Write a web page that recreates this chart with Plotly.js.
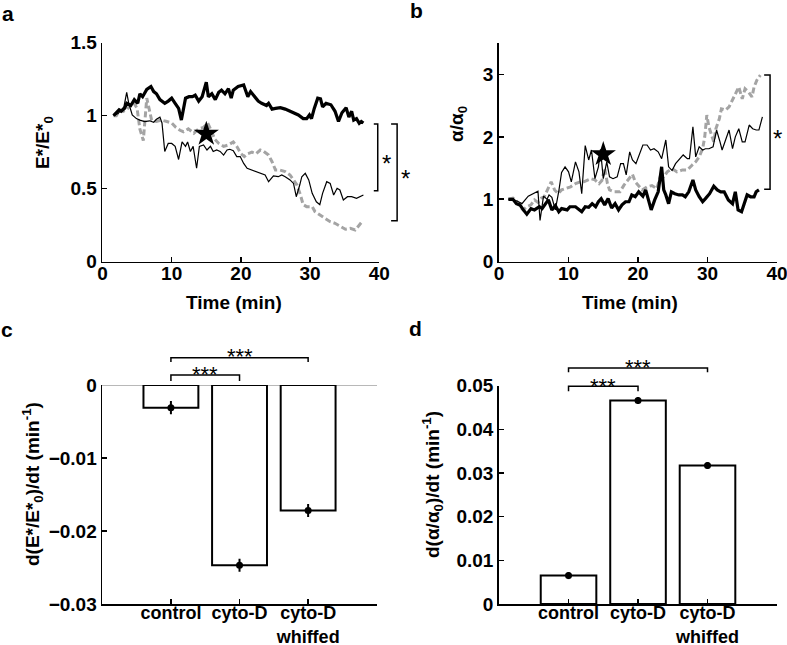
<!DOCTYPE html>
<html>
<head>
<meta charset="utf-8">
<script src="https://cdn.plot.ly/plotly-3.0.1.min.js"></script>
<style>html,body{margin:0;padding:0;background:#fff;}#chart{width:787px;height:645px;}</style>
</head>
<body>
<div id="chart"></div>
<script>
// ---------- Panel a: E*/E*0 vs time ----------
const tA_control = [1.6,2.0,2.4,2.7,3.2,3.5,4.1,4.6,5.1,5.4,
  5.8,6.4,7.0,7.4,7.8,8.3,9.0,9.5,10.0,10.5,
  11.0,11.4,12.0,12.5,13.0,13.4,13.9,14.4,15.0,15.3,
  15.8,16.3,16.8,17.2,17.7,18.2,18.6,18.9,19.6,20.4,
  20.6,21.0,21.4,22.0,22.5,23.0,23.7,24.0,24.5,25.0,
  25.7,26.4,27.1,27.6,28.3,29.0,29.5,29.9,30.2,30.6,
  31.1,31.5,31.8,32.3,33.0,33.6,34.1,34.6,35.2,35.6,
  36.0,36.3,36.7,37.1,37.4,37.7];
const vA_control = [1.00,1.02,1.04,1.03,1.05,1.085,1.07,1.11,1.085,1.15,
  1.13,1.18,1.20,1.165,1.15,1.11,1.085,1.10,1.12,1.085,
  1.05,0.97,1.12,1.13,1.13,1.14,1.10,1.13,1.23,1.13,
  1.15,1.11,1.16,1.175,1.15,1.185,1.12,1.175,1.20,1.21,
  1.185,1.13,1.165,1.13,1.10,1.085,1.07,1.085,1.045,1.05,
  1.055,1.045,1.03,1.02,1.005,0.98,0.98,1.005,0.98,1.05,
  1.12,1.115,1.06,1.085,1.075,1.03,0.96,1.02,1.055,0.99,
  1.03,0.97,0.98,0.948,0.96,0.95];

const tA_cytoD = [1.6,2.3,2.7,3.1,3.5,3.8,4.3,4.9,5.4,6.1,
  6.8,7.4,7.8,8.3,8.6,9.0,9.5,10.0,10.5,11.0,
  11.5,12.0,12.3,12.7,13.1,13.6,14.0,14.6,15.1,15.6,
  16.0,16.5,17.0,17.5,18.0,18.4,18.9,19.4,19.9,20.4,
  20.9,21.6,22.3,22.8,23.5,24.0,24.7,25.4,25.9,26.4,
  27.1,27.6,28.0,28.5,28.8,29.3,29.8,30.3,30.9,31.4,
  31.8,32.4,32.9,33.4,33.9,34.3,34.8,35.4,36.0,36.7,
  37.2,37.7];
const vA_cytoD = [1.00,1.016,1.04,1.06,1.16,1.085,1.005,0.98,0.97,0.96,
  0.965,0.955,0.975,0.99,0.95,0.755,0.81,0.81,0.79,0.70,
  0.82,0.79,0.82,0.755,0.79,0.64,0.79,0.80,0.765,0.79,
  0.755,0.765,0.755,0.73,0.765,0.77,0.76,0.72,0.72,0.673,
  0.64,0.628,0.617,0.605,0.594,0.548,0.587,0.582,0.594,0.582,
  0.56,0.536,0.445,0.525,0.582,0.605,0.56,0.468,0.41,0.39,
  0.468,0.548,0.536,0.457,0.503,0.491,0.423,0.445,0.445,0.434,
  0.445,0.457];

const tA_whiffed = [1.6,2.0,2.5,3.0,3.5,4.0,4.5,5.0,5.4,5.9,
  6.4,6.8,7.1,7.8,8.5,9.3,10.0,10.6,11.2,11.7,
  12.4,13.2,13.9,14.6,15.2,15.7,16.2,16.8,17.5,18.2,
  18.9,19.4,20.0,20.5,21.0,21.6,22.2,22.8,23.3,24.0,
  24.5,25.0,25.6,26.4,27.1,27.6,28.1,28.6,29.0,29.5,
  30.3,30.7,31.5,32.2,32.9,33.6,34.4,35.1,35.8,36.5,
  37.0,37.5];
const vA_whiffed = [1.00,1.00,1.04,1.03,1.04,1.07,1.09,1.05,0.91,0.83,
  1.12,1.02,0.97,0.96,0.97,0.96,0.95,0.92,0.90,0.89,
  0.91,0.88,0.91,0.92,0.95,0.90,0.84,0.81,0.79,0.80,
  0.82,0.79,0.74,0.72,0.74,0.75,0.74,0.765,0.755,0.73,
  0.685,0.628,0.628,0.617,0.594,0.56,0.525,0.457,0.39,0.377,
  0.377,0.343,0.32,0.297,0.274,0.263,0.24,0.222,0.228,0.217,
  0.245,0.274];

// ---------- Panel b: alpha/alpha0 vs time ----------
const tB_control = [1.35,2.0,2.5,3.0,3.5,4.0,4.6,5.1,5.8,6.2,
  6.7,7.1,7.6,8.1,8.6,9.0,9.8,10.2,11.0,11.5,
  11.9,12.4,12.9,13.4,13.9,14.3,14.7,15.2,15.7,16.2,
  16.7,17.2,17.7,18.2,18.7,19.1,19.6,20.1,20.7,21.1,
  21.5,21.9,22.4,22.9,23.4,23.7,24.0,24.4,24.8,25.3,
  25.9,26.4,26.8,27.3,27.9,28.3,28.8,29.3,29.7,30.3,
  30.9,31.4,31.9,32.4,33.0,33.6,34.0,34.4,34.9,35.4,
  35.7,36.2,36.7,37.0,37.4];
const vB_control = [1.00,1.00,0.93,0.91,0.83,0.76,0.85,0.83,0.88,0.85,
  0.93,0.99,0.83,0.90,0.80,0.85,0.83,0.88,0.88,0.83,
  0.80,0.88,0.87,0.93,0.88,0.96,1.01,0.91,1.01,0.86,
  0.93,0.83,0.91,0.96,0.96,1.07,1.04,1.12,1.05,1.15,
  0.98,0.83,0.99,1.12,1.52,1.15,1.07,0.93,1.12,1.09,
  1.07,1.07,1.04,1.12,1.31,1.15,1.04,0.96,1.01,1.09,
  1.21,1.15,1.12,1.12,0.99,0.93,1.12,0.83,0.80,0.99,
  1.07,1.04,1.04,1.12,1.15];

const tB_cytoD = [1.35,2.0,2.8,3.3,4.2,5.2,5.6,5.9,6.4,6.9,
  7.2,7.6,8.1,8.6,9.0,9.5,10.0,10.4,11.0,11.5,
  11.9,12.4,12.9,13.3,13.8,14.3,14.6,15.0,15.5,15.9,
  16.4,17.0,17.5,17.9,18.3,18.8,19.2,19.7,20.1,20.7,
  21.3,21.8,22.3,22.9,23.4,24.0,24.4,24.9,25.4,25.9,
  26.5,27.1,27.4,27.9,28.3,28.8,29.3,29.7,30.2,30.8,
  31.3,31.8,32.1,32.6,33.1,33.6,34.0,34.5,35.0,35.4,
  36.0,36.5,37.0,37.4,37.9];
const vB_cytoD = [1.00,1.00,0.96,0.93,1.05,1.10,1.13,0.66,1.05,1.00,
  1.07,1.03,0.83,1.13,1.43,1.52,1.44,1.28,1.60,1.44,
  1.09,1.86,1.63,1.79,1.33,1.52,1.80,1.33,1.60,1.36,
  1.33,1.36,1.57,1.57,1.39,1.76,1.63,1.57,1.70,1.87,
  1.87,1.79,1.81,1.76,1.65,1.95,1.52,1.46,1.57,1.63,
  1.71,1.65,1.65,2.16,1.68,1.84,1.79,1.81,1.81,1.84,
  2.11,1.92,1.79,1.95,2.11,1.81,2.00,2.13,1.92,1.92,
  2.19,2.13,2.11,2.11,2.32];

const tB_whiffed = [1.35,2.0,2.5,3.0,3.5,4.0,4.6,5.1,5.6,6.1,
  6.5,7.0,7.5,8.0,8.5,9.0,9.6,10.3,11.0,11.7,
  12.2,12.7,13.2,13.8,14.4,14.8,15.2,15.6,15.9,16.6,
  17.4,18.0,18.7,19.2,19.6,20.1,20.6,21.3,22.0,22.7,
  23.2,23.7,24.2,24.9,25.6,26.4,27.1,27.8,28.3,28.8,
  29.3,29.6,29.9,30.2,30.6,30.9,31.2,31.7,32.0,32.6,
  33.1,33.6,34.1,34.5,35.0,35.4,35.9,36.4,36.7,37.1,
  37.6];
const vB_whiffed = [1.00,1.02,0.98,0.88,0.83,0.88,0.91,0.99,0.95,1.02,
  1.04,1.15,1.28,1.15,1.09,1.15,1.17,1.20,1.25,1.28,
  1.28,1.31,1.33,1.31,1.25,1.30,1.50,1.25,1.15,1.12,
  1.12,1.23,1.33,1.40,1.28,1.22,1.15,1.20,1.22,1.17,
  1.36,1.36,1.44,1.49,1.44,1.47,1.47,1.55,1.60,1.68,
  1.81,2.00,2.35,2.16,2.00,1.92,2.13,2.29,2.45,2.43,
  2.48,2.59,2.72,2.80,2.61,2.77,2.72,2.64,2.80,2.91,
  2.99];

// star markers (time, value)
const starA = {t: 15, v: 0.875};
const starB = {t: 15, v: 1.72};

// ---------- Panels c, d: bar charts ----------
const categories = ['control', 'cyto-D', 'cyto-D<br>whiffed'];
const catPos = [1, 2, 3];
const cVals = [-0.0031, -0.0247, -0.0172];
const cErr  = [0.0009, 0.0009, 0.0009];
const dVals = [0.0065, 0.0466, 0.0317];
const dErr  = [0.0008, 0.0008, 0.0008];

// significance brackets: [start value, end value] per bracket
const bracketsA = [[0.943, 0.486], [0.943, 0.281]];
const bracketsB = [[2.99, 1.16]];
const sigStars = '***';

// ---------- layout geometry ----------
const W = 787, H = 645;
const FONT = 'Liberation Sans, Arial, Helvetica, sans-serif';
const dom = {
  ax: [0.1302, 0.4820], ay: [0.5943, 0.9338],
  bx: [0.6341, 0.9873], by: [0.5943, 0.9329],
  cx: [0.1300, 0.4787], cy: [0.0636, 0.4031],
  dx: [0.6341, 0.9873], dy: [0.0636, 0.4020]
};
const rng = {
  ax: [0, 40], ay: [0, 1.5], bx: [0, 40], by: [0, 3.5],
  cx: [0, 4], cy: [-0.03, 0], dx: [0, 4], dy: [0, 0.05]
};
function toP(key, v) {
  const d = dom[key], r = rng[key];
  return d[0] + (v - r[0]) / (r[1] - r[0]) * (d[1] - d[0]);
}
function pyPix(yPix) { return (H - yPix) / H; }
function pxPix(xPix) { return xPix / W; }

const baseFont = {family: FONT, size: 19, color: 'black', weight: 'bold'};
function F(extra) { return Object.assign({}, baseFont, extra || {}); }

function axis(extra) {
  return Object.assign({
    showline: true, linecolor: 'black', linewidth: 1.8,
    ticks: 'inside', ticklen: 5, tickwidth: 1.6, tickcolor: 'black',
    showgrid: false, zeroline: false, fixedrange: true,
    ticklabeloverflow: 'allow',
    tickfont: F()
  }, extra);
}

const gray = '#a4a4a4';
const traces = [
  // panel a
  {x: tA_whiffed, y: vA_whiffed, xaxis: 'x', yaxis: 'y', mode: 'lines',
   line: {color: gray, width: 3, dash: '6px,3px'}},
  {x: tA_cytoD, y: vA_cytoD, xaxis: 'x', yaxis: 'y', mode: 'lines',
   line: {color: 'black', width: 1.2}},
  {x: tA_control, y: vA_control, xaxis: 'x', yaxis: 'y', mode: 'lines',
   line: {color: 'black', width: 3.2}},
  {x: [starA.t], y: [starA.v], xaxis: 'x', yaxis: 'y', mode: 'markers',
   marker: {symbol: 'star', size: 19, color: 'black'}},
  // panel b
  {x: tB_whiffed, y: vB_whiffed, xaxis: 'x2', yaxis: 'y2', mode: 'lines',
   line: {color: gray, width: 3, dash: '6px,3px'}},
  {x: tB_cytoD, y: vB_cytoD, xaxis: 'x2', yaxis: 'y2', mode: 'lines',
   line: {color: 'black', width: 1.2}},
  {x: tB_control, y: vB_control, xaxis: 'x2', yaxis: 'y2', mode: 'lines',
   line: {color: 'black', width: 3.2}},
  {x: [starB.t], y: [starB.v], xaxis: 'x2', yaxis: 'y2', mode: 'markers',
   marker: {symbol: 'star', size: 19, color: 'black'}},
  // panel c
  {type: 'bar', x: catPos, y: cVals, width: 0.8, xaxis: 'x3', yaxis: 'y3',
   marker: {color: 'white', line: {color: 'black', width: 2}}},
  {type: 'scatter', mode: 'markers', x: catPos, y: cVals, xaxis: 'x3', yaxis: 'y3',
   marker: {color: 'black', size: 7},
   error_y: {type: 'data', array: cErr, color: 'black', thickness: 2, width: 0}},
  // panel d
  {type: 'bar', x: catPos, y: dVals, width: 0.8, xaxis: 'x4', yaxis: 'y4',
   marker: {color: 'white', line: {color: 'black', width: 2}}},
  {type: 'scatter', mode: 'markers', x: catPos, y: dVals, xaxis: 'x4', yaxis: 'y4',
   marker: {color: 'black', size: 7},
   error_y: {type: 'data', array: dErr, color: 'black', thickness: 2, width: 0}}
];

const catFont = F({size: 18});
const catTicks = {tickmode: 'array', tickvals: catPos, ticktext: categories,
  ticklabelstandoff: -8, tickfont: catFont,
  minor: {tickmode: 'array', tickvals: [0, 4], ticks: 'inside', ticklen: 5, tickwidth: 1.6, tickcolor: 'black', showgrid: false}};

const layout = {
  width: W, height: H, showlegend: false,
  margin: {l: 0, r: 0, t: 0, b: 0},
  paper_bgcolor: 'white', plot_bgcolor: 'rgba(0,0,0,0)',
  font: F(),
  bargap: 0,
  xaxis: axis({domain: dom.ax, range: rng.ax, anchor: 'y', tickmode: 'array', tickvals: [0,10,20,30,40], ticklabelstandoff: -6}),
  yaxis: axis({domain: dom.ay, range: rng.ay, anchor: 'x', tickmode: 'array', tickvals: [0,0.5,1,1.5]}),
  xaxis2: axis({domain: dom.bx, range: rng.bx, anchor: 'y2', tickmode: 'array', tickvals: [0,10,20,30,40], ticklabelstandoff: -6}),
  yaxis2: axis({domain: dom.by, range: rng.by, anchor: 'x2', tickmode: 'array', tickvals: [0,1,2,3]}),
  xaxis3: axis(Object.assign({domain: dom.cx, range: rng.cx, anchor: 'y3'}, catTicks)),
  yaxis3: axis({domain: dom.cy, range: rng.cy, anchor: 'x3', tickmode: 'array',
    tickvals: [-0.03,-0.02,-0.01,0], zeroline: true, zerolinecolor: '#b8b8b8', zerolinewidth: 1}),
  xaxis4: axis(Object.assign({domain: dom.dx, range: rng.dx, anchor: 'y4'}, catTicks)),
  yaxis4: axis({domain: dom.dy, range: rng.dy, anchor: 'x4', tickmode: 'array',
    tickvals: [0,0.01,0.02,0.03,0.04,0.05]}),
  shapes: [],
  annotations: []
};

const lineStyle = {color: 'black', width: 1.5};
function bracketV(xKey, yKey, xVert, xArm, y0, y1) {
  const X1 = toP(xKey, xVert), X0 = toP(xKey, xArm);
  const Y0 = toP(yKey, y0), Y1 = toP(yKey, y1);
  layout.shapes.push({type: 'path', xref: 'paper', yref: 'paper',
    path: `M ${X0} ${Y0} L ${X1} ${Y0} L ${X1} ${Y1} L ${X0} ${Y1}`, line: lineStyle});
}
function bracketH(xKey, yKey, c0, c1, yTop, yEnd) {
  const X0 = toP(xKey, c0), X1 = toP(xKey, c1);
  const Yt = toP(yKey, yTop), Ye = toP(yKey, yEnd);
  layout.shapes.push({type: 'path', xref: 'paper', yref: 'paper',
    path: `M ${X0} ${Ye} L ${X0} ${Yt} L ${X1} ${Yt} L ${X1} ${Ye}`, line: lineStyle});
}
function txt(text, x, y, opts) {
  layout.annotations.push(Object.assign({text: text, x: x, y: y, xref: 'paper', yref: 'paper',
    showarrow: false, xanchor: 'center', yanchor: 'middle', font: F()}, opts || {}));
}

// panel a brackets + stars
bracketV('ax', 'ay', 39.77, 39.2, bracketsA[0][0], bracketsA[0][1]);
bracketV('ax', 'ay', 42.57, 41.7, bracketsA[1][0], bracketsA[1][1]);
txt('*', toP('ax', 41.0), toP('ay', (bracketsA[0][0] + bracketsA[0][1]) / 2), {font: F({size: 24, weight: 'normal'}), yshift: -6});
txt('*', toP('ax', 43.8), toP('ay', (bracketsA[1][0] + bracketsA[1][1]) / 2), {font: F({size: 24, weight: 'normal'}), yshift: -6});
// panel b bracket + star
bracketV('bx', 'by', 39.0, 38.15, bracketsB[0][0], bracketsB[0][1]);
txt('*', toP('bx', 40.1), toP('by', (bracketsB[0][0] + bracketsB[0][1]) / 2), {font: F({size: 24, weight: 'normal'}), yshift: -6});

// panel c significance
bracketH('cx', 'cy', 1, 2, 0.00137, 0.00055);
bracketH('cx', 'cy', 1, 3, 0.00374, 0.00315);
txt(sigStars, toP('cx', 1.5), toP('cy', 0.0022), {font: F({size: 22, weight: 'normal'}), yshift: -6});
txt(sigStars, toP('cx', 2.0), toP('cy', 0.0047), {font: F({size: 22, weight: 'normal'}), yshift: -6});
// panel d significance
bracketH('dx', 'dy', 1, 2, 0.04989, 0.04874);
bracketH('dx', 'dy', 1, 3, 0.05407, 0.05309);
txt(sigStars, toP('dx', 1.5), toP('dy', 0.0511), {font: F({size: 22, weight: 'normal'}), yshift: -6});
txt(sigStars, toP('dx', 2.0), toP('dy', 0.05545), {font: F({size: 22, weight: 'normal'}), yshift: -6});

// axis titles
txt('E*/E*<sub>0</sub>', pxPix(44), pyPix(143), {textangle: -90});
txt('Time (min)', pxPix(234), pyPix(302));
txt('α/α<sub>0</sub>', pxPix(458), pyPix(124), {textangle: -90});
txt('Time (min)', pxPix(630), pyPix(302));
txt('d(E*/E*<sub>0</sub>)/dt (min<sup>-1</sup>)', pxPix(32), pyPix(484), {textangle: -90});
txt('d(α/α<sub>0</sub>)/dt (min<sup>-1</sup>)', pxPix(432), pyPix(485), {textangle: -90});

// panel letters
const letterFont = F({size: 21});
txt('a', pxPix(8), pyPix(13), {font: letterFont});
txt('b', pxPix(416), pyPix(11), {font: letterFont});
txt('c', pxPix(7), pyPix(329), {font: letterFont});
txt('d', pxPix(415), pyPix(328), {font: letterFont});

Plotly.newPlot('chart', traces, layout, {staticPlot: true, displayModeBar: false});
</script>
</body>
</html>
